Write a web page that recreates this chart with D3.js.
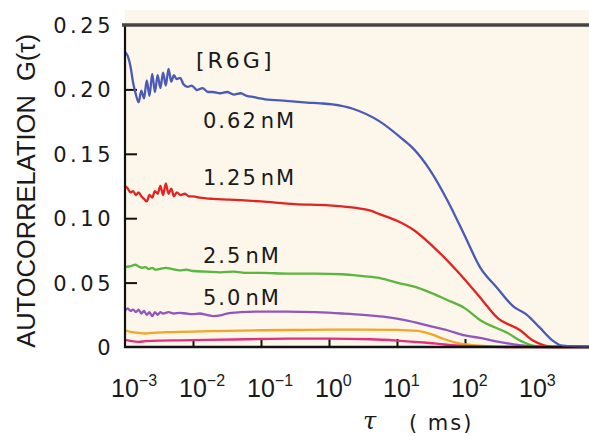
<!DOCTYPE html>
<html lang="en">
<head>
<meta charset="utf-8">
<title>FCS autocorrelation</title>
<script src="https://cdn.jsdelivr.net/npm/d3@7"></script>
<style>
  body { margin: 0; background: #fff; }
  text { fill: #1a1a1a; }
</style>
</head>
<body>
<script>
// concentration labels and colours
var concNums = ["0.62", "1.25", "2.5", "5.0"]
var seriesColors = ["#4a5ab6", "#e42320", "#5ab63c", "#9256bd", "#f2a526", "#e2307c"]

// [log10 tau(ms), G(tau)]
var g062 = [[-3.00,0.229],[-2.96,0.226],[-2.92,0.218],[-2.88,0.205],[-2.84,0.196],[-2.80,0.190],
  [-2.76,0.199],[-2.72,0.193],[-2.68,0.207],[-2.64,0.195],[-2.60,0.212],[-2.56,0.198],[-2.52,0.211],
  [-2.48,0.201],[-2.44,0.213],[-2.40,0.203],[-2.36,0.216],[-2.32,0.206],[-2.28,0.211],[-2.24,0.208],
  [-2.19,0.209],[-2.14,0.204],[-2.08,0.202],[-2.02,0.203],[-1.94,0.1995],[-1.86,0.201],[-1.78,0.198],
  [-1.71,0.198],[-1.60,0.197],[-1.50,0.198],[-1.40,0.196],[-1.30,0.197],[-1.21,0.195],[-1.10,0.194],
  [-1.01,0.193],[-0.90,0.192],[-0.72,0.1915],[-0.50,0.1905],[-0.32,0.1898],[-0.13,0.1892],[0.05,0.1884],
  [0.35,0.185],[0.75,0.175],[1.09,0.161],[1.24,0.154],[1.49,0.137],[1.74,0.114],[2.00,0.086],
  [2.22,0.062],[2.47,0.046],[2.71,0.0315],[2.91,0.025],[3.10,0.015],[3.29,0.005],[3.43,0.001],[3.82,0]]

var g125 = [[-3.00,0.125],[-2.96,0.123],[-2.92,0.120],[-2.88,0.121],[-2.84,0.118],[-2.80,0.120],
  [-2.76,0.117],[-2.72,0.115],[-2.68,0.113],[-2.64,0.118],[-2.60,0.116],[-2.56,0.121],[-2.52,0.119],
  [-2.48,0.125],[-2.44,0.118],[-2.40,0.127],[-2.36,0.119],[-2.32,0.123],[-2.28,0.117],[-2.24,0.120],
  [-2.18,0.118],[-2.12,0.119],[-2.06,0.117],[-2.00,0.117],[-1.90,0.116],[-1.70,0.115],[-1.50,0.1145],
  [-1.30,0.114],[-1.00,0.113],[-0.50,0.111],[0.00,0.110],[0.40,0.108],[0.60,0.106],[0.75,0.103],
  [1.00,0.098],[1.24,0.091],[1.53,0.078],[1.97,0.054],[2.26,0.036],[2.47,0.023],[2.81,0.013],
  [3.00,0.005],[3.15,0.0015],[3.30,0],[3.82,0]]

var g25 = [[-3.00,0.062],[-2.95,0.0625],[-2.90,0.063],[-2.85,0.064],[-2.80,0.0625],[-2.75,0.0615],
  [-2.70,0.062],[-2.65,0.0605],[-2.60,0.0615],[-2.55,0.060],[-2.50,0.0605],[-2.40,0.0615],[-2.30,0.0605],
  [-2.20,0.0595],[-2.10,0.060],[-2.00,0.059],[-1.80,0.0585],[-1.60,0.058],[-1.40,0.0585],[-1.20,0.0575],
  [-1.00,0.0575],[-0.60,0.057],[-0.20,0.057],[0.20,0.0565],[0.50,0.055],[0.75,0.0535],[1.00,0.050],
  [1.24,0.047],[1.50,0.042],[1.74,0.0365],[2.00,0.030],[2.22,0.021],[2.62,0.011],[2.85,0.004],
  [3.00,0.001],[3.20,0],[3.82,0]]

var g50 = [[-3.00,0.028],[-2.96,0.030],[-2.92,0.028],[-2.88,0.029],[-2.84,0.027],[-2.80,0.029],
  [-2.76,0.026],[-2.72,0.028],[-2.68,0.025],[-2.64,0.027],[-2.60,0.024],[-2.56,0.027],[-2.52,0.025],
  [-2.48,0.027],[-2.44,0.026],[-2.36,0.027],[-2.28,0.026],[-2.20,0.0265],[-2.10,0.026],[-2.00,0.0255],
  [-1.90,0.026],[-1.80,0.025],[-1.70,0.024],[-1.60,0.0245],[-1.50,0.026],[-1.30,0.027],[-1.00,0.0275],
  [-0.60,0.0275],[-0.20,0.027],[0.20,0.026],[0.50,0.025],[0.80,0.0235],[1.10,0.021],[1.50,0.016],
  [1.74,0.013],[2.00,0.009],[2.22,0.007],[2.50,0.004],[2.80,0.0015],[3.10,0],[3.82,0]]

var g10 = [[-3.00,0.013],[-2.90,0.0115],[-2.80,0.011],[-2.70,0.0105],[-2.60,0.011],[-2.40,0.0115],
  [-2.20,0.0118],[-2.00,0.012],[-1.50,0.0125],[-1.00,0.013],[-0.50,0.0132],[0.00,0.0135],[0.50,0.0135],
  [1.00,0.0133],[1.30,0.0125],[1.50,0.010],[1.70,0.006],[1.90,0.003],[2.10,0.0015],[2.40,0.0005],
  [2.70,0],[3.82,0]]

var g20 = [[-3.00,0.0055],[-2.90,0.0045],[-2.80,0.004],[-2.70,0.0045],[-2.50,0.005],[-2.20,0.0052],
  [-1.80,0.0055],[-1.20,0.006],[-0.60,0.0065],[0.00,0.0065],[0.60,0.006],[1.00,0.005],[1.40,0.0035],
  [1.80,0.0015],[2.20,0.0005],[2.60,0],[3.82,0]]

var yTicks = [0, 0.05, 0.10, 0.15, 0.20, 0.25]
var yTickLabels = ["0", "0.05", "0.10", "0.15", "0.20", "0.25"]
var xTickExp = [-3, -2, -1, 0, 1, 2, 3]

var w = 589, h = 436
var svg = d3.select("body").append("svg").attr("width", w).attr("height", h)

var x = d3.scaleLog().domain([1e-3, 1e3]).range([125, 533])
var y = d3.scaleLinear().domain([0, 0.25]).range([347, 25])
var xRight = w

// plot background
svg.append("rect")
  .attr("x", x(1e-3)).attr("y", 10)
  .attr("width", xRight - x(1e-3)).attr("height", y(0) - 10)
  .attr("fill", "#fcf7ea")

var allSeries = [g062, g125, g25, g50, g10, g20]
var line = d3.line()
  .x(function(d) { return Math.min(x(Math.pow(10, d[0])), xRight) })
  .y(function(d) { return y(d[1]) })
  .curve(d3.curveMonotoneX)

// y axis, ticks pointing in
var yAxis = d3.axisLeft(y).tickValues(yTicks.slice(1, 5)).tickSize(-12).tickFormat("")
var gy = svg.append("g").attr("transform", "translate(" + x(1e-3) + ",0)").call(yAxis)
gy.select(".domain").remove()
gy.selectAll("line").attr("stroke", "#111").attr("stroke-width", 2)

var xAxis = d3.axisBottom(x).tickValues([1e-2, 1e-1, 1, 10, 100]).tickSize(-8).tickFormat("")
var gx = svg.append("g").attr("transform", "translate(0," + y(0) + ")").call(xAxis)
gx.select(".domain").remove()
gx.selectAll("line").attr("stroke", "#111").attr("stroke-width", 2)

svg.selectAll(".curve")
  .data(allSeries)
  .enter()
  .append("path")
  .attr("class", "curve")
  .attr("d", line)
  .attr("fill", "none")
  .attr("stroke", function(d, i) { return seriesColors[i] })
  .attr("stroke-width", 2.3)
  .attr("stroke-linejoin", "round")

// axis lines
svg.append("line")
  .attr("x1", x(1e-3)).attr("x2", x(1e-3)).attr("y1", y(0.25)).attr("y2", y(0) + 1)
  .attr("stroke", "#111").attr("stroke-width", 2.2)
svg.append("line")
  .attr("x1", x(1e-3) - 1).attr("x2", xRight).attr("y1", y(0)).attr("y2", y(0))
  .attr("stroke", "#111").attr("stroke-width", 2.5)
svg.append("line")
  .attr("x1", x(1e-3) - 3).attr("x2", xRight).attr("y1", y(0.25)).attr("y2", y(0.25))
  .attr("stroke", "#454545").attr("stroke-width", 3.5)
// blue tail lies on top of the axis
svg.append("path")
  .attr("d", line(g062.slice(-2)))
  .attr("stroke", seriesColors[0]).attr("stroke-width", 2).attr("opacity", 0.6)

// y tick labels
svg.selectAll(".ylab")
  .data(yTicks)
  .enter()
  .append("text")
  .attr("class", "ylab")
  .attr("x", 114)
  .attr("y", function(d) { return y(d) + 8 })
  .attr("text-anchor", "end")
  .attr("font-family", "DejaVu Sans")
  .attr("font-size", "21px")
  .attr("letter-spacing", "3.5px")
  .text(function(d, i) { return yTickLabels[i] })

// x tick labels 10^n
var xl = svg.selectAll(".xlab")
  .data(xTickExp)
  .enter()
  .append("text")
  .attr("class", "xlab")
  .attr("x", function(d) { return x(Math.pow(10, d)) - 14 })
  .attr("y", 397)
  .attr("font-family", "Liberation Sans")
  .attr("font-size", "25px")
xl.append("tspan").text("10")
xl.append("tspan")
  .attr("dy", -11)
  .attr("font-size", "16px")
  .text(function(d) { return d < 0 ? "\u2212" + (-d) : d })

// axis titles
svg.append("text")
  .attr("transform", "translate(35,191) rotate(-90)")
  .attr("text-anchor", "middle")
  .attr("font-family", "Liberation Sans")
  .attr("font-size", "25.5px")
  .attr("xml:space", "preserve")
  .text("AUTOCORRELATION  G(\u03c4)")

svg.append("text")
  .attr("x", 363).attr("y", 429)
  .attr("font-family", "DejaVu Serif")
  .attr("font-style", "italic")
  .attr("font-size", "24px")
  .text("\u03c4")
svg.append("text")
  .attr("x", 409).attr("y", 430)
  .attr("font-family", "DejaVu Sans")
  .attr("font-size", "21px")
  .attr("letter-spacing", "2px")
  .text("( ms)")

// annotations
svg.append("text")
  .attr("x", 196).attr("y", 68)
  .attr("font-family", "DejaVu Sans")
  .attr("font-size", "22px")
  .attr("letter-spacing", "3px")
  .text("[R6G]")

var labY = [128, 185, 263, 305]
var conc = svg.selectAll(".conc")
  .data(concNums)
  .enter()
  .append("text")
  .attr("class", "conc")
  .attr("x", 203)
  .attr("y", function(d, i) { return labY[i] })
  .attr("font-family", "DejaVu Sans")
  .attr("font-size", "21px")
  .attr("letter-spacing", "2px")
conc.append("tspan").text(function(d) { return d })
conc.append("tspan").attr("dx", 3).text("nM")
</script>
</body>
</html>
